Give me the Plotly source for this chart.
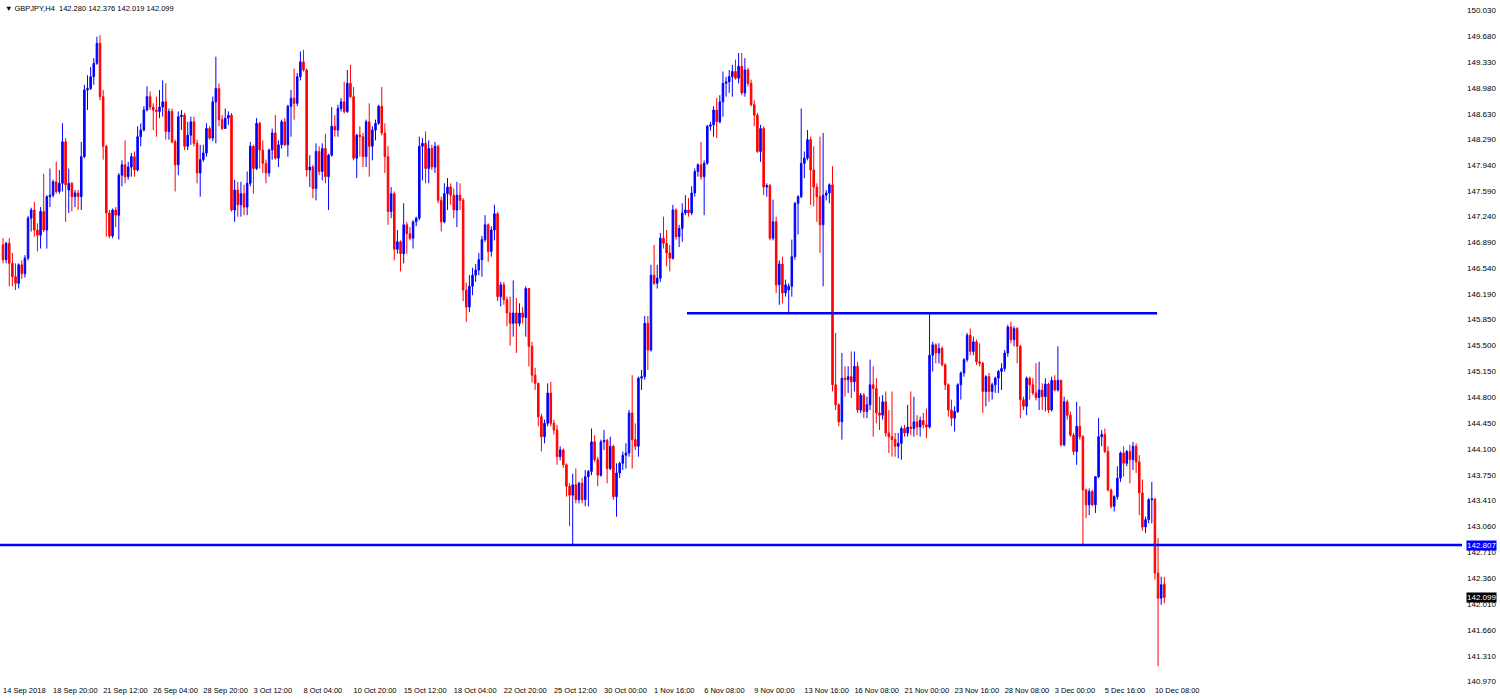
import plotly.graph_objects as go

# ---------------- data ----------------
SYMBOL_TEXT = "\u25BC GBPJPY,H4  142.280 142.376 142.019 142.099"

OPEN = [
    146.86, 146.66, 146.88, 146.61, 146.43, 146.34, 146.59, 146.47, 146.68, 147.22,
    147.33, 147.06, 146.99, 147.31, 147.06, 147.51, 147.53, 147.71, 147.58, 147.69,
    148.25, 147.60, 147.69, 147.51, 147.56, 147.51, 148.05, 148.95, 148.97, 149.13,
    149.31, 149.58, 148.86, 148.19, 147.29, 146.98, 147.33, 147.26, 147.80, 147.94,
    147.78, 147.91, 148.05, 147.87, 148.32, 148.41, 148.68, 148.86, 148.72, 148.68,
    148.66, 148.72, 148.79, 148.39, 148.66, 148.25, 147.94, 148.59, 148.61, 148.19,
    148.34, 148.52, 148.23, 147.83, 148.01, 148.10, 148.43, 148.30, 148.79, 148.97,
    148.55, 148.43, 148.57, 148.61, 147.33, 147.60, 147.40, 147.55, 147.37, 147.69,
    148.19, 147.89, 148.50, 148.14, 147.96, 147.83, 148.14, 148.37, 148.03, 148.21,
    148.52, 148.21, 148.73, 148.84, 148.77, 149.13, 149.33, 149.22, 147.87, 147.91,
    147.62, 148.12, 147.85, 148.16, 147.78, 148.07, 148.46, 148.41, 148.70, 148.79,
    148.66, 149.04, 148.86, 148.03, 148.34, 148.32, 148.05, 148.52, 148.19, 148.41,
    148.50, 148.73, 148.37, 148.05, 147.31, 147.55, 146.80, 146.90, 146.74, 147.13,
    147.01, 146.95, 147.17, 147.22, 148.19, 148.23, 147.89, 148.16, 147.91, 148.19,
    147.46, 147.17, 147.55, 147.64, 147.53, 147.33, 147.53, 147.46, 146.25, 146.02,
    146.30, 146.45, 146.52, 146.66, 146.93, 147.13, 146.77, 147.06, 147.28, 146.16,
    146.32, 146.12, 145.94, 145.80, 145.94, 145.80, 145.94, 145.88, 146.27, 145.49,
    145.10, 144.99, 144.54, 144.27, 144.45, 144.86, 144.45, 144.36, 144.00, 144.09,
    143.89, 143.60, 143.48, 143.62, 143.42, 143.64, 143.42, 143.73, 143.80, 144.20,
    143.96, 143.75, 144.20, 144.22, 143.84, 144.14, 143.46, 143.78, 143.91, 144.02,
    144.05, 144.59, 144.23, 144.14, 145.06, 145.08, 145.80, 145.44, 146.45, 146.34,
    146.41, 146.95, 146.88, 146.75, 146.68, 147.33, 146.97, 147.08, 147.29, 147.33,
    147.29, 147.56, 147.85, 147.94, 147.78, 147.96, 148.46, 148.48, 148.68, 148.52,
    148.79, 149.04, 149.06, 149.13, 149.20, 149.11, 149.27, 148.91, 149.22, 149.04,
    148.75, 148.61, 148.12, 148.43, 147.64, 147.66, 146.95, 147.17, 146.32, 146.60,
    146.21, 146.25, 146.30, 146.70, 147.42, 147.51, 147.96, 148.03, 148.28, 147.87,
    147.64, 147.51, 147.13, 147.53, 147.56, 147.67, 144.97, 144.70, 144.47, 145.06,
    145.04, 145.08, 145.01, 145.22, 144.63, 144.83, 144.61, 144.70, 144.97, 144.92,
    144.59, 144.56, 144.74, 144.32, 144.27, 144.23, 144.14, 144.18, 144.38, 144.32,
    144.40, 144.38, 144.47, 144.40, 144.49, 144.43, 144.40, 145.37, 145.51, 145.40,
    145.46, 145.24, 144.97, 144.63, 144.52, 144.61, 144.97, 145.13, 145.31, 145.64,
    145.42, 145.55, 145.28, 145.26, 144.88, 145.08, 144.88, 144.97, 145.06, 145.15,
    145.19, 145.40, 145.75, 145.58, 145.73, 145.49, 144.77, 144.68, 145.06, 144.97,
    144.86, 144.80, 144.90, 144.81, 144.98, 144.63, 145.03, 144.90, 145.03, 144.16,
    144.74, 144.56, 144.29, 144.07, 144.41, 144.27, 143.55, 143.35, 143.53, 143.35,
    143.73, 144.27, 144.30, 144.07, 143.55, 143.33, 143.46, 143.71, 144.05, 143.91,
    144.07, 143.96, 144.14, 143.93, 143.51, 143.05, 143.15, 143.42, 143.43, 142.43,
    142.09, 142.280,
]

HIGH = [
    146.95, 146.90, 146.95, 146.75, 146.61, 146.61, 146.65, 146.72, 147.25, 147.36,
    147.44, 147.15, 147.37, 147.82, 147.53, 147.89, 147.74, 147.98, 147.87, 148.50,
    148.30, 147.89, 147.71, 147.60, 147.60, 148.25, 149.02, 149.15, 149.26, 149.38,
    149.67, 149.69, 148.95, 148.21, 147.33, 147.35, 147.37, 147.83, 148.00, 148.27,
    147.98, 148.10, 148.12, 148.46, 148.50, 148.73, 149.00, 148.93, 148.77, 148.86,
    148.95, 149.08, 149.04, 148.70, 148.70, 148.28, 148.66, 148.68, 148.64, 148.52,
    148.59, 148.59, 148.28, 148.21, 148.21, 148.50, 148.46, 148.86, 149.40, 149.04,
    148.61, 148.70, 148.66, 148.64, 147.74, 147.71, 147.71, 147.67, 147.85, 148.25,
    148.21, 148.57, 148.52, 148.27, 148.01, 148.16, 148.43, 148.61, 148.27, 148.55,
    148.57, 148.75, 148.95, 149.24, 149.18, 149.47, 149.49, 149.24, 148.07, 147.94,
    148.23, 148.19, 148.23, 148.36, 148.09, 148.72, 148.61, 148.75, 148.84, 149.06,
    149.22, 149.29, 148.99, 148.36, 148.46, 148.37, 148.55, 148.77, 148.46, 148.55,
    148.75, 148.99, 148.50, 148.19, 147.64, 147.58, 147.06, 146.92, 147.42, 147.17,
    147.10, 147.19, 147.24, 148.32, 148.30, 148.39, 148.27, 148.21, 148.25, 148.21,
    147.51, 147.69, 147.76, 147.69, 147.62, 147.71, 147.69, 147.49, 146.35, 146.45,
    146.55, 146.60, 146.75, 146.98, 147.26, 147.15, 147.11, 147.40, 147.30, 146.36,
    146.36, 146.16, 146.16, 146.38, 146.14, 146.07, 146.02, 146.30, 146.27, 145.55,
    145.20, 145.00, 144.58, 144.50, 144.99, 145.01, 144.50, 144.43, 144.14, 144.11,
    143.91, 143.64, 143.77, 143.84, 143.66, 143.71, 143.82, 143.82, 144.38, 144.29,
    144.00, 144.23, 144.36, 144.24, 144.27, 144.16, 143.91, 143.93, 144.07, 144.18,
    144.63, 145.10, 144.45, 145.08, 145.17, 145.90, 145.90, 146.59, 146.86, 146.59,
    147.02, 147.24, 147.06, 146.86, 147.40, 147.35, 147.13, 147.42, 147.53, 147.49,
    147.65, 147.89, 147.96, 148.25, 148.00, 148.48, 148.52, 148.73, 148.84, 148.88,
    149.20, 149.13, 149.22, 149.29, 149.36, 149.45, 149.45, 149.38, 149.25, 149.09,
    148.81, 148.64, 148.48, 148.46, 147.69, 147.68, 147.47, 147.24, 146.65, 146.70,
    146.39, 146.34, 146.93, 147.44, 147.53, 148.70, 148.12, 148.41, 148.32, 148.19,
    147.69, 148.32, 148.37, 147.60, 147.69, 147.92, 145.67, 144.72, 145.40, 145.22,
    145.22, 145.42, 145.42, 145.28, 144.86, 144.86, 144.81, 145.31, 145.22, 145.06,
    144.81, 144.83, 144.88, 144.63, 144.88, 144.32, 144.32, 144.41, 144.43, 144.70,
    144.88, 144.81, 144.56, 144.54, 144.59, 144.65, 145.94, 145.55, 145.53, 145.53,
    145.49, 145.26, 144.99, 144.77, 144.68, 144.99, 145.15, 145.33, 145.67, 145.73,
    145.62, 145.58, 145.53, 145.28, 145.10, 145.13, 145.00, 145.08, 145.17, 145.26,
    145.44, 145.78, 145.82, 145.76, 145.75, 145.51, 144.81, 145.08, 145.08, 145.06,
    145.26, 145.28, 144.99, 145.06, 145.00, 145.08, 145.10, 145.49, 145.04, 144.81,
    144.77, 144.61, 144.32, 144.74, 144.68, 144.29, 143.57, 143.57, 143.55, 143.73,
    144.52, 144.36, 144.38, 144.14, 143.57, 143.48, 143.87, 144.07, 144.14, 144.09,
    144.16, 144.20, 144.18, 144.02, 143.69, 143.19, 143.44, 143.66, 143.43, 142.90,
    142.38, 142.376,
]

LOW = [
    146.61, 146.61, 146.30, 146.30, 146.25, 146.27, 146.40, 146.42, 146.65, 147.04,
    146.97, 146.77, 146.81, 147.03, 146.81, 147.37, 147.50, 147.55, 147.55, 147.58,
    147.17, 147.29, 147.31, 147.37, 147.33, 147.33, 148.03, 148.68, 148.95, 149.02,
    149.29, 148.81, 148.01, 146.97, 146.95, 146.95, 147.10, 146.93, 147.65, 147.69,
    147.74, 147.78, 147.78, 147.85, 148.19, 148.39, 148.66, 148.68, 148.41, 148.32,
    148.57, 148.59, 148.28, 148.28, 148.23, 147.58, 147.80, 148.41, 148.14, 148.14,
    148.21, 148.19, 147.69, 147.51, 147.98, 148.05, 148.28, 148.26, 148.23, 148.46,
    148.41, 148.43, 148.48, 147.31, 147.17, 147.24, 147.24, 147.26, 147.26, 147.65,
    147.55, 147.87, 147.89, 147.83, 147.69, 147.78, 148.01, 148.01, 147.91, 148.16,
    148.19, 148.05, 148.32, 148.55, 148.73, 149.08, 149.20, 147.78, 147.64, 147.49,
    147.46, 147.80, 147.73, 147.69, 147.33, 148.05, 148.32, 148.32, 148.66, 148.63,
    148.64, 148.84, 148.00, 147.76, 148.05, 147.91, 147.91, 147.78, 148.00, 148.27,
    148.48, 148.34, 147.83, 147.13, 147.22, 146.65, 146.74, 146.50, 146.61, 146.74,
    146.92, 146.81, 147.11, 147.19, 147.73, 147.69, 147.69, 147.87, 147.83, 147.42,
    147.04, 147.15, 147.33, 147.40, 147.22, 147.10, 147.33, 146.10, 145.82, 145.95,
    146.18, 146.36, 146.45, 146.43, 146.90, 146.63, 146.70, 146.92, 146.10, 146.03,
    146.05, 145.76, 145.50, 145.62, 145.40, 145.76, 145.80, 145.62, 145.22, 145.00,
    144.90, 144.41, 144.07, 144.18, 144.41, 144.41, 144.30, 143.89, 143.95, 143.85,
    143.46, 143.06, 142.81, 143.37, 143.37, 143.37, 143.33, 143.33, 143.75, 143.93,
    143.60, 143.73, 144.09, 143.64, 143.82, 143.42, 143.19, 143.71, 143.82, 143.84,
    144.00, 143.84, 144.09, 144.00, 144.90, 145.04, 145.17, 145.42, 146.32, 146.27,
    146.36, 146.81, 146.57, 146.50, 146.66, 146.93, 146.83, 146.90, 147.26, 147.24,
    147.26, 147.51, 147.78, 147.74, 147.26, 147.94, 148.40, 148.32, 148.30, 148.50,
    148.59, 148.86, 148.91, 148.86, 149.09, 149.04, 148.88, 148.86, 149.00, 148.73,
    148.46, 148.10, 147.98, 147.53, 147.51, 146.92, 146.92, 146.21, 146.05, 146.07,
    146.16, 145.95, 146.16, 146.66, 147.00, 147.49, 147.76, 148.00, 147.40, 147.38,
    147.17, 146.75, 146.30, 147.46, 147.42, 144.88, 144.63, 144.41, 144.23, 144.81,
    144.86, 144.79, 144.88, 144.59, 144.59, 144.52, 144.52, 144.63, 144.27, 144.45,
    144.36, 144.50, 144.27, 144.05, 144.00, 144.00, 143.98, 143.96, 144.27, 144.27,
    144.29, 144.27, 144.29, 144.27, 144.38, 144.25, 144.38, 145.15, 145.26, 145.26,
    145.22, 144.90, 144.54, 144.41, 144.34, 144.59, 144.77, 145.08, 145.28, 145.37,
    145.37, 145.24, 145.22, 144.59, 144.68, 144.74, 144.77, 144.86, 144.86, 144.90,
    145.15, 145.35, 145.53, 145.49, 145.26, 144.52, 144.63, 144.56, 144.77, 144.83,
    144.76, 144.63, 144.63, 144.61, 144.59, 144.61, 144.88, 144.88, 144.14, 144.14,
    144.50, 144.27, 144.02, 143.89, 144.23, 142.80, 143.17, 143.21, 143.33, 143.24,
    143.71, 144.14, 144.05, 143.53, 143.30, 143.26, 143.42, 143.66, 143.73, 143.87,
    143.64, 143.82, 143.78, 143.21, 143.00, 142.97, 143.10, 143.10, 142.34, 141.17,
    142.00, 142.019,
]

CLOSE = [
    146.66, 146.88, 146.61, 146.43, 146.34, 146.59, 146.47, 146.68, 147.22, 147.33,
    147.06, 146.99, 147.31, 147.06, 147.51, 147.53, 147.71, 147.58, 147.69, 148.25,
    147.67, 147.69, 147.51, 147.56, 147.51, 148.05, 148.95, 148.97, 149.13, 149.31,
    149.58, 148.86, 148.19, 147.29, 146.98, 147.33, 147.26, 147.80, 147.94, 147.78,
    147.91, 148.05, 147.87, 148.32, 148.41, 148.68, 148.86, 148.72, 148.68, 148.66,
    148.72, 148.79, 148.39, 148.66, 148.25, 147.94, 148.59, 148.61, 148.19, 148.34,
    148.52, 148.23, 147.83, 148.01, 148.10, 148.43, 148.30, 148.79, 148.97, 148.55,
    148.43, 148.57, 148.61, 147.33, 147.60, 147.40, 147.55, 147.37, 147.69, 148.19,
    147.89, 148.50, 148.14, 147.96, 147.83, 148.14, 148.37, 148.03, 148.21, 148.52,
    148.21, 148.73, 148.84, 148.77, 149.13, 149.33, 149.22, 147.87, 147.91, 147.62,
    148.12, 147.85, 148.16, 147.78, 148.07, 148.46, 148.41, 148.70, 148.79, 148.66,
    149.04, 148.86, 148.03, 148.34, 148.32, 148.05, 148.52, 148.19, 148.41, 148.50,
    148.73, 148.37, 148.05, 147.31, 147.55, 146.80, 146.90, 146.74, 147.13, 147.01,
    146.95, 147.17, 147.22, 148.19, 148.23, 147.89, 148.16, 147.91, 148.19, 147.46,
    147.17, 147.55, 147.64, 147.53, 147.33, 147.53, 147.46, 146.25, 146.02, 146.30,
    146.45, 146.52, 146.66, 146.93, 147.13, 146.77, 147.06, 147.28, 146.16, 146.32,
    146.12, 145.94, 145.80, 145.94, 145.80, 145.94, 145.88, 146.27, 145.49, 145.10,
    144.99, 144.54, 144.27, 144.45, 144.86, 144.45, 144.36, 144.00, 144.09, 143.89,
    143.60, 143.48, 143.62, 143.42, 143.64, 143.42, 143.73, 143.80, 144.20, 143.96,
    143.75, 144.20, 144.22, 143.84, 144.14, 143.46, 143.78, 143.91, 144.02, 144.05,
    144.59, 144.23, 144.14, 145.06, 145.08, 145.80, 145.44, 146.45, 146.34, 146.41,
    146.95, 146.88, 146.75, 146.68, 147.33, 146.97, 147.08, 147.29, 147.33, 147.29,
    147.56, 147.85, 147.94, 147.78, 147.96, 148.46, 148.48, 148.68, 148.52, 148.79,
    149.04, 149.06, 149.13, 149.20, 149.11, 149.27, 148.91, 149.22, 149.04, 148.75,
    148.61, 148.12, 148.43, 147.64, 147.66, 146.95, 147.17, 146.32, 146.60, 146.21,
    146.32, 146.30, 146.70, 147.42, 147.51, 147.96, 148.03, 148.28, 147.87, 147.64,
    147.51, 147.13, 147.53, 147.56, 147.67, 144.97, 144.70, 144.47, 145.06, 145.04,
    145.08, 145.01, 145.22, 144.63, 144.83, 144.61, 144.70, 144.97, 144.92, 144.59,
    144.56, 144.74, 144.32, 144.27, 144.23, 144.14, 144.18, 144.38, 144.32, 144.40,
    144.38, 144.47, 144.40, 144.49, 144.43, 144.40, 145.37, 145.51, 145.40, 145.46,
    145.24, 144.97, 144.63, 144.52, 144.61, 144.97, 145.13, 145.31, 145.64, 145.42,
    145.55, 145.28, 145.26, 144.88, 145.08, 144.88, 144.97, 145.06, 145.15, 145.19,
    145.40, 145.75, 145.58, 145.73, 145.49, 144.77, 144.68, 145.06, 144.97, 144.86,
    144.80, 144.90, 144.81, 144.98, 144.63, 145.03, 144.90, 145.03, 144.16, 144.74,
    144.56, 144.29, 144.07, 144.41, 144.27, 143.55, 143.35, 143.53, 143.35, 143.73,
    144.27, 144.30, 144.07, 143.55, 143.33, 143.46, 143.71, 144.05, 143.91, 144.07,
    143.96, 144.14, 143.93, 143.51, 143.05, 143.15, 143.42, 143.43, 142.43, 142.09,
    142.27, 142.099,
]

# time-scale labels (one every 16 bars, starting at bar 0)
TIME_LABELS = [
    "14 Sep 2018", "18 Sep 20:00", "21 Sep 12:00", "26 Sep 04:00", "28 Sep 20:00",
    "3 Oct 12:00", "8 Oct 04:00", "10 Oct 20:00", "15 Oct 12:00", "18 Oct 04:00",
    "22 Oct 20:00", "25 Oct 12:00", "30 Oct 00:00", "1 Nov 16:00", "6 Nov 08:00",
    "9 Nov 00:00", "13 Nov 16:00", "16 Nov 08:00", "21 Nov 00:00", "23 Nov 16:00",
    "28 Nov 08:00", "3 Dec 00:00", "5 Dec 16:00", "10 Dec 08:00",
]
TIME_LABEL_STEP = 16

PRICE_TICKS = [
    150.030, 149.680, 149.330, 148.980, 148.630, 148.290, 147.940, 147.590, 147.240,
    146.890, 146.540, 146.190, 145.850, 145.500, 145.150, 144.800, 144.450, 144.100,
    143.750, 143.410, 143.060, 142.710, 142.360, 142.010, 141.660, 141.310, 140.970,
]

SUPPORT_LEVEL = 142.807            # horizontal line across the whole chart
RESIST_LEVEL = 145.935             # trend-line segment
RESIST_FROM_BAR = 218.5
RESIST_TO_BAR = 368.7
LAST_PRICE = 142.099

# ---------------- figure ----------------
n = len(CLOSE)
xs = list(range(n))
hi = [max(h, o, c) for h, o, c in zip(HIGH, OPEN, CLOSE)]
lo = [min(l, o, c) for l, o, c in zip(LOW, OPEN, CLOSE)]

BLUE = "#0000ff"
RED = "#ff0000"
FONT = "Liberation Sans, Arial, sans-serif"

fig = go.Figure()
fig.add_trace(go.Candlestick(
    x=xs, open=OPEN, high=hi, low=lo, close=CLOSE,
    increasing=dict(line=dict(color=BLUE, width=1), fillcolor=BLUE),
    decreasing=dict(line=dict(color=RED, width=1), fillcolor=RED),
    whiskerwidth=0, hoverinfo="skip", showlegend=False,
))

# horizontal support line (full width)
fig.add_shape(type="line", xref="paper", yref="y", x0=0, x1=1,
              y0=SUPPORT_LEVEL, y1=SUPPORT_LEVEL,
              line=dict(color=BLUE, width=2.5))
# resistance segment
fig.add_shape(type="line", xref="x", yref="y", x0=RESIST_FROM_BAR, x1=RESIST_TO_BAR,
              y0=RESIST_LEVEL, y1=RESIST_LEVEL,
              line=dict(color=BLUE, width=2.5))

# price boxes on the scale
fig.add_annotation(xref="paper", yref="y", x=1.0, y=SUPPORT_LEVEL, xanchor="left",
                   yanchor="middle", text=f"{SUPPORT_LEVEL:.3f}", showarrow=False,
                   bgcolor=BLUE, font=dict(family=FONT, size=8, color="white"),
                   borderpad=0, xshift=4)
fig.add_annotation(xref="paper", yref="y", x=1.0, y=LAST_PRICE, xanchor="left",
                   yanchor="middle", text=f"{LAST_PRICE:.3f}", showarrow=False,
                   bgcolor="black", font=dict(family=FONT, size=8, color="white"),
                   borderpad=0, xshift=4)

# symbol text top-left
fig.add_annotation(xref="paper", yref="paper", x=0, y=1, xanchor="left", yanchor="top",
                   text=SYMBOL_TEXT, showarrow=False, xshift=3, yshift=-2,
                   font=dict(family=FONT, size=7.5, color="black"))

tick_bars = [i * TIME_LABEL_STEP for i in range(len(TIME_LABELS))]

fig.update_layout(
    width=1500, height=699,
    margin=dict(l=0, r=38, t=0, b=15, autoexpand=False),
    paper_bgcolor="white", plot_bgcolor="white",
    showlegend=False,
    xaxis=dict(
        range=[-0.96, 466.1], rangeslider=dict(visible=False),
        showgrid=False, zeroline=False, showline=False,
        tickmode="array", tickvals=tick_bars, ticktext=TIME_LABELS,
        ticks="", ticklabelposition="outside right", tickangle=0,
        automargin=False,
        tickfont=dict(family=FONT, size=7.5, color="black"),
    ),
    yaxis=dict(
        range=[140.931, 150.165], side="right",
        showgrid=False, zeroline=False, showline=False,
        tickmode="array", tickvals=PRICE_TICKS,
        ticktext=[f"{v:.3f}" for v in PRICE_TICKS],
        ticks="", automargin=False, ticklabelstandoff=4,
        tickfont=dict(family=FONT, size=8, color="black"),
    ),
)

fig.write_html(
    "out.html",
    config={"displayModeBar": False},
    post_script="document.body.style.margin='0px';document.body.style.overflow='hidden';",
)
